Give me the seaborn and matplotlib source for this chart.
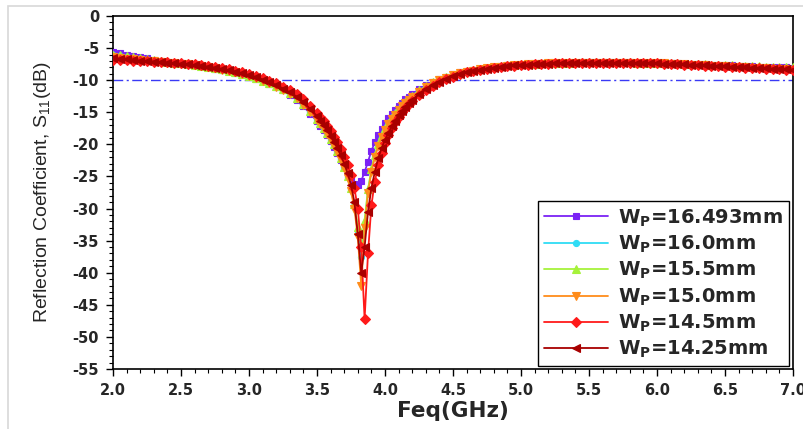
import numpy as np
import pandas as pd
import matplotlib
matplotlib.use("Agg")
import matplotlib.pyplot as plt
import seaborn as sns
from matplotlib.ticker import MultipleLocator

# frequency sweep (GHz): coarse outside the resonance, finer around it
freq = np.round(np.concatenate([np.arange(2.0, 3.5001, 0.05),
                                np.arange(3.525, 4.2001, 0.025),
                                np.arange(4.25, 7.0001, 0.05)]), 3)

wp_1649 = [-5.6, -5.8, -6.0, -6.2, -6.4, -6.6, -6.8, -6.95, -7.1, -7.25, -7.4, -7.55, -7.7, -7.85, -8.0, -8.2,
           -8.4, -8.6, -8.85, -9.1, -9.4, -9.75, -10.15, -10.6, -11.1, -11.6, -12.3, -13.1, -14.1, -15.2, -16.4,
           -17.1, -17.8, -18.6, -19.5, -20.4, -21.4, -22.5, -23.6, -24.7, -25.6, -26.2, -26.4, -25.7, -24.3,
           -22.7, -21.0, -19.7, -18.6, -17.6, -16.7, -15.9, -15.2, -14.6, -14.0, -13.5, -13.0, -12.6, -12.2,
           -11.4, -10.8, -10.3, -9.85, -9.45, -9.1, -8.8, -8.55, -8.35, -8.2, -8.05, -7.9, -7.8, -7.7, -7.6,
           -7.55, -7.5, -7.45, -7.4, -7.35, -7.3, -7.3, -7.25, -7.25, -7.2, -7.2, -7.2, -7.2, -7.2, -7.2, -7.2,
           -7.2, -7.25, -7.25, -7.3, -7.3, -7.35, -7.35, -7.4, -7.45, -7.5, -7.5, -7.55, -7.6, -7.65, -7.7,
           -7.7, -7.75, -7.8, -7.85, -7.9, -7.9, -7.95, -8.0, -8.0, -8.05]

wp_160 = [-6.1, -6.25, -6.4, -6.55, -6.7, -6.8, -6.95, -7.05, -7.15, -7.3, -7.4, -7.5, -7.65, -7.8, -7.95, -8.15,
          -8.35, -8.55, -8.8, -9.05, -9.35, -9.7, -10.1, -10.5, -11.0, -11.5, -12.1, -12.8, -13.7, -14.9, -16.1,
          -16.8, -17.5, -18.3, -19.2, -20.1, -21.1, -22.3, -23.6, -25.1, -27.0, -29.6, -33.5, -37.5, -32.5,
          -27.3, -24.1, -21.8, -20.1, -18.8, -17.7, -16.8, -16.0, -15.3, -14.6, -14.0, -13.5, -13.0, -12.5,
          -11.7, -11.0, -10.4, -9.95, -9.55, -9.2, -8.9, -8.65, -8.45, -8.25, -8.1, -7.95, -7.85, -7.75, -7.65,
          -7.6, -7.5, -7.45, -7.4, -7.35, -7.3, -7.3, -7.25, -7.25, -7.25, -7.2, -7.2, -7.2, -7.2, -7.2, -7.25,
          -7.25, -7.3, -7.3, -7.35, -7.35, -7.4, -7.4, -7.45, -7.5, -7.55, -7.6, -7.65, -7.7, -7.75, -7.8,
          -7.85, -7.9, -7.95, -8.0, -8.05, -8.1, -8.1, -8.15, -8.2, -8.25]

wp_155 = [-6.0, -6.15, -6.3, -6.45, -6.6, -6.75, -6.9, -7.0, -7.1, -7.25, -7.35, -7.5, -7.6, -7.75, -7.9, -8.1,
          -8.3, -8.5, -8.75, -9.0, -9.3, -9.65, -10.05, -10.45, -10.95, -11.45, -12.05, -12.75, -13.65, -14.8,
          -16.0, -16.7, -17.4, -18.2, -19.1, -20.0, -21.0, -22.2, -23.5, -25.0, -26.8, -29.3, -32.8, -35.5,
          -31.8, -27.0, -23.9, -21.6, -19.9, -18.6, -17.5, -16.6, -15.8, -15.1, -14.5, -13.9, -13.4, -12.9,
          -12.4, -11.6, -10.95, -10.35, -9.9, -9.5, -9.15, -8.85, -8.6, -8.4, -8.2, -8.05, -7.9, -7.8, -7.7,
          -7.6, -7.55, -7.5, -7.45, -7.4, -7.35, -7.3, -7.25, -7.25, -7.2, -7.2, -7.2, -7.2, -7.2, -7.2, -7.2,
          -7.2, -7.2, -7.25, -7.25, -7.3, -7.3, -7.35, -7.35, -7.4, -7.45, -7.5, -7.5, -7.55, -7.6, -7.65,
          -7.7, -7.7, -7.75, -7.8, -7.85, -7.85, -7.9, -7.95, -7.95, -8.0, -8.0]

wp_150 = [-6.4, -6.5, -6.65, -6.75, -6.85, -6.95, -7.05, -7.15, -7.25, -7.35, -7.45, -7.55, -7.65, -7.8, -7.95,
          -8.15, -8.35, -8.55, -8.8, -9.05, -9.35, -9.7, -10.1, -10.5, -11.0, -11.5, -12.1, -12.8, -13.8, -15.0,
          -16.2, -16.9, -17.6, -18.4, -19.3, -20.2, -21.2, -22.4, -23.7, -25.3, -27.3, -30.0, -34.5, -42.0,
          -33.0, -27.6, -24.3, -22.0, -20.3, -18.9, -17.8, -16.9, -16.1, -15.4, -14.7, -14.1, -13.6, -13.1,
          -12.6, -11.8, -11.1, -10.5, -10.0, -9.6, -9.25, -8.95, -8.7, -8.5, -8.3, -8.15, -8.0, -7.9, -7.8,
          -7.7, -7.6, -7.55, -7.5, -7.45, -7.4, -7.35, -7.3, -7.3, -7.25, -7.25, -7.25, -7.25, -7.25, -7.25,
          -7.25, -7.25, -7.3, -7.3, -7.35, -7.35, -7.4, -7.4, -7.45, -7.5, -7.55, -7.6, -7.65, -7.7, -7.75,
          -7.8, -7.85, -7.9, -7.95, -8.0, -8.05, -8.1, -8.15, -8.2, -8.25, -8.3, -8.35]

wp_145 = [-6.8, -6.85, -6.9, -6.95, -7.0, -7.05, -7.1, -7.15, -7.2, -7.3, -7.35, -7.45, -7.55, -7.65, -7.8,
          -7.95, -8.1, -8.3, -8.5, -8.75, -9.0, -9.3, -9.65, -10.05, -10.5, -11.0, -11.55, -12.2, -13.0, -14.0,
          -15.1, -15.7, -16.4, -17.1, -17.9, -18.8, -19.7, -20.7, -21.9, -23.2, -24.8, -26.8, -30.0, -36.0,
          -47.2, -37.0, -29.5, -25.8, -23.2, -21.3, -19.8, -18.5, -17.4, -16.5, -15.7, -15.0, -14.3, -13.7,
          -13.2, -12.3, -11.5, -10.85, -10.3, -9.85, -9.45, -9.1, -8.8, -8.6, -8.4, -8.2, -8.05, -7.95, -7.85,
          -7.75, -7.65, -7.6, -7.55, -7.5, -7.45, -7.4, -7.35, -7.35, -7.3, -7.3, -7.3, -7.25, -7.25, -7.25,
          -7.3, -7.3, -7.3, -7.35, -7.35, -7.4, -7.4, -7.45, -7.5, -7.55, -7.6, -7.65, -7.7, -7.75, -7.8,
          -7.85, -7.9, -7.95, -8.0, -8.05, -8.1, -8.15, -8.2, -8.25, -8.3, -8.35, -8.4]

wp_1425 = [-6.55, -6.65, -6.75, -6.85, -6.95, -7.0, -7.1, -7.2, -7.25, -7.35, -7.45, -7.55, -7.65, -7.75, -7.9,
           -8.05, -8.25, -8.45, -8.65, -8.9, -9.2, -9.5, -9.9, -10.3, -10.75, -11.3, -11.9, -12.55, -13.4, -14.5,
           -15.6, -16.3, -17.0, -17.8, -18.7, -19.6, -20.6, -21.7, -23.0, -24.5, -26.3, -29.0, -34.0, -40.0,
           -36.0, -30.5, -26.8, -24.3, -22.2, -20.6, -19.3, -18.2, -17.2, -16.3, -15.5, -14.8, -14.2, -13.6,
           -13.1, -12.2, -11.45, -10.8, -10.25, -9.8, -9.4, -9.05, -8.8, -8.55, -8.35, -8.2, -8.05, -7.9, -7.8,
           -7.7, -7.65, -7.6, -7.5, -7.45, -7.45, -7.4, -7.35, -7.35, -7.3, -7.3, -7.3, -7.3, -7.3, -7.3, -7.3,
           -7.3, -7.3, -7.35, -7.35, -7.4, -7.4, -7.45, -7.5, -7.5, -7.55, -7.6, -7.65, -7.7, -7.75, -7.8,
           -7.85, -7.9, -7.95, -8.0, -8.05, -8.1, -8.15, -8.2, -8.25, -8.3, -8.35]

labels = ["16.493", "16.0", "15.5", "15.0", "14.5", "14.25"]
series = [wp_1649, wp_160, wp_155, wp_150, wp_145, wp_1425]
colors = ["#7B22F5", "#2FDCF5", "#A6F23A", "#FF8C1A", "#FF1A1A", "#A80000"]
markers = ["s", "o", "^", "v", "D", "<"]
msizes = [5.0, 4.4, 5.4, 5.8, 5.0, 5.6]

x_ticks = [2.0, 2.5, 3.0, 3.5, 4.0, 4.5, 5.0, 5.5, 6.0, 6.5, 7.0]
y_ticks = [0, -5, -10, -15, -20, -25, -30, -35, -40, -45, -50, -55]
ref_level = -10

frames = []
for lab, vals in zip(labels, series):
    frames.append(pd.DataFrame({"freq": freq, "s11": vals, "wp": lab}))
df = pd.concat(frames, ignore_index=True)

sns.set_theme(style="white")
plt.rcParams["font.family"] = ["DejaVu Sans"]

fig = plt.figure(figsize=(8.04, 4.29), dpi=100)
ax = fig.add_axes([113 / 804, 1 - 369 / 429, (793 - 113) / 804, (369 - 16) / 429])

# light grey outer frame of the original picture
fig.patches.append(plt.Rectangle((8 / 804, -0.1), 1.2, 1 - 6 / 429 + 0.1,
                                 transform=fig.transFigure, fill=False,
                                 edgecolor="#d8d8d8", linewidth=1.2, zorder=-5))

ax.plot([2.0, 7.0], [ref_level, ref_level], color="#3A3AF5", linewidth=1.0,
        dashes=(7, 2.5, 1.5, 2.5), zorder=1)

for lab, col, mk, ms in zip(labels, colors, markers, msizes):
    sub = df[df["wp"] == lab]
    sns.lineplot(data=sub, x="freq", y="s11", ax=ax, color=col, marker=mk,
                 markersize=ms, markeredgewidth=0.8, markeredgecolor=col,
                 linewidth=1.3, label="W$_\\mathregular{P}$=" + lab + "mm",
                 sort=False, estimator=None, zorder=3)

ax.set_xlim(2.0, 7.0)
ax.set_ylim(-55, 0)
ax.set_xticks(x_ticks)
ax.set_yticks(y_ticks)
ax.set_xticklabels([f"{v:.1f}" for v in x_ticks])
ax.set_yticklabels([str(v) for v in y_ticks])
ax.xaxis.set_minor_locator(MultipleLocator(0.1))
ax.yaxis.set_minor_locator(MultipleLocator(1))
ax.tick_params(which="major", direction="out", length=5, width=1.0, color="black",
               labelsize=10.5, pad=5)
ax.tick_params(which="minor", direction="out", length=3, width=0.8, color="black")
ax.tick_params(axis="x", which="both", bottom=True, top=False)
ax.tick_params(axis="y", which="both", left=True, right=False)
for t in ax.get_xticklabels() + ax.get_yticklabels():
    t.set_fontweight("bold")

for sp in ax.spines.values():
    sp.set_color("black")
    sp.set_linewidth(1.2)

ax.set_xlabel("Feq(GHz)", fontsize=15.5, fontweight="bold", labelpad=2)
ax.set_ylabel("Reflection Coefficient, S$_\\mathregular{11}$(dB)",
              fontsize=14, family=["Liberation Sans Narrow", "Liberation Sans", "DejaVu Sans"],
              labelpad=14)

leg = ax.legend(loc="lower right", bbox_to_anchor=(0.994, 0.008), frameon=True,
                fancybox=False, edgecolor="black", framealpha=1,
                prop={"weight": "bold", "size": 14}, handlelength=3.3,
                labelspacing=0.26, borderpad=0.3, handletextpad=0.5, borderaxespad=0)
leg.get_frame().set_linewidth(1.0)

fig.savefig("out.png", dpi=100)
